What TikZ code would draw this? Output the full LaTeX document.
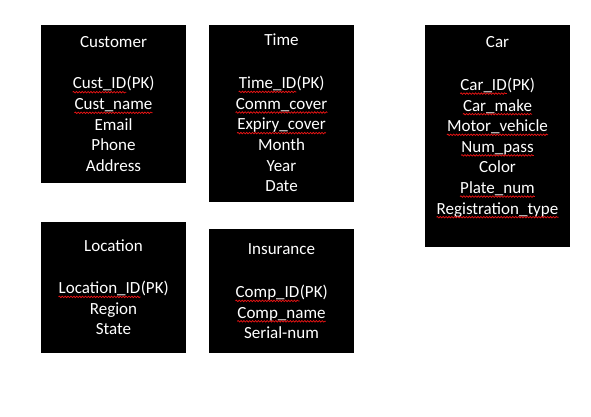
\documentclass[tikz,border=0pt]{standalone}
\usepackage{fontspec}
\setmainfont{Carlito}
\usetikzlibrary{decorations.pathmorphing}
\newcommand\lnfont{\fontsize{17}{20.6}\selectfont}
\tikzset{
  tbl/.style={fill=black, draw=none, inner sep=0pt, anchor=north west},
  ln/.style={text=white, font=\lnfont, anchor=base, inner sep=0pt},
  squig/.style={draw={rgb,255:red,230;green,20;blue,20}, line width=0.75pt, decorate,
    decoration={snake, amplitude=0.75pt, segment length=2.9pt, pre length=0pt, post length=0pt}},
}
\newcommand\sqline[1]{\draw[squig] ([yshift=-3.2pt]#1.base west) -- ([yshift=-3.2pt]#1.base east);}
% key line: name, x, y, key text followed by (PK); "(PK)" is about 27.9pt wide
\newcommand\pkline[4]{%
  \node[ln] (#1) at ({#2-13.95},#3) {#4};
  \node[ln, anchor=base west] (#1pk) at (#1.base east) {(PK)};
  \sqline{#1}}
\begin{document}
\begin{tikzpicture}[x=1pt,y=-1pt]
\useasboundingbox[fill=white] (0,0) rectangle (591,417);
% boxes
\node[tbl, minimum width=145pt, minimum height=158pt] (cust) at (41,25) {};
\node[tbl, minimum width=145pt, minimum height=177pt] (time) at (209,25) {};
\node[tbl, minimum width=145pt, minimum height=222pt] (car) at (425,25) {};
\node[tbl, minimum width=145pt, minimum height=131pt] (loc) at (41,222) {};
\node[tbl, minimum width=145pt, minimum height=124pt] (ins) at (209,229) {};
% Customer
\node[ln] (cust0) at (113.5,47.5) {Customer};
\pkline{cust1}{113.5}{89}{Cust\_ID}
\node[ln] (cust2) at (113.5,109.6) {Cust\_name};
\node[ln] (cust3) at (113.5,130.2) {Email};
\node[ln] (cust4) at (113.5,150.8) {Phone};
\node[ln] (cust5) at (113.5,171.4) {Address};
\sqline{cust2}
% Time
\node[ln] (time0) at (281.5,46) {Time};
\pkline{time1}{281.5}{88.7}{Time\_ID}
\node[ln] (time2) at (281.5,109.3) {Comm\_cover};
\node[ln] (time3) at (281.5,129.9) {Expiry\_cover};
\node[ln] (time4) at (281.5,150.5) {Month};
\node[ln] (time5) at (281.5,171.1) {Year};
\node[ln] (time6) at (281.5,191.7) {Date};
\sqline{time2}
\sqline{time3}
% Car
\node[ln] (car0) at (497.5,47.8) {Car};
\pkline{car1}{497.5}{90.4}{Car\_ID}
\node[ln] (car2) at (497.5,111) {Car\_make};
\node[ln] (car3) at (497.5,131.6) {Motor\_vehicle};
\node[ln] (car4) at (497.5,152.2) {Num\_pass};
\node[ln] (car5) at (497.5,172.8) {Color};
\node[ln] (car6) at (497.5,193.4) {Plate\_num};
\node[ln] (car7) at (497.5,214) {Registration\_type};
\sqline{car2}
\sqline{car3}
\sqline{car4}
\sqline{car6}
\sqline{car7}
% Location
\node[ln] (loc0) at (113.5,251.1) {Location};
\pkline{loc1}{113.5}{293.7}{Location\_ID}
\node[ln] (loc2) at (113.5,314.3) {Region};
\node[ln] (loc3) at (113.5,334.9) {State};
% Insurance
\node[ln] (ins0) at (281.5,254.7) {Insurance};
\pkline{ins1}{281.5}{297.7}{Comp\_ID}
\node[ln] (ins2) at (281.5,318.1) {Comp\_name};
\node[ln] (ins3) at (281.5,338.5) {Serial-num};
\sqline{ins2}
\end{tikzpicture}
\end{document}
